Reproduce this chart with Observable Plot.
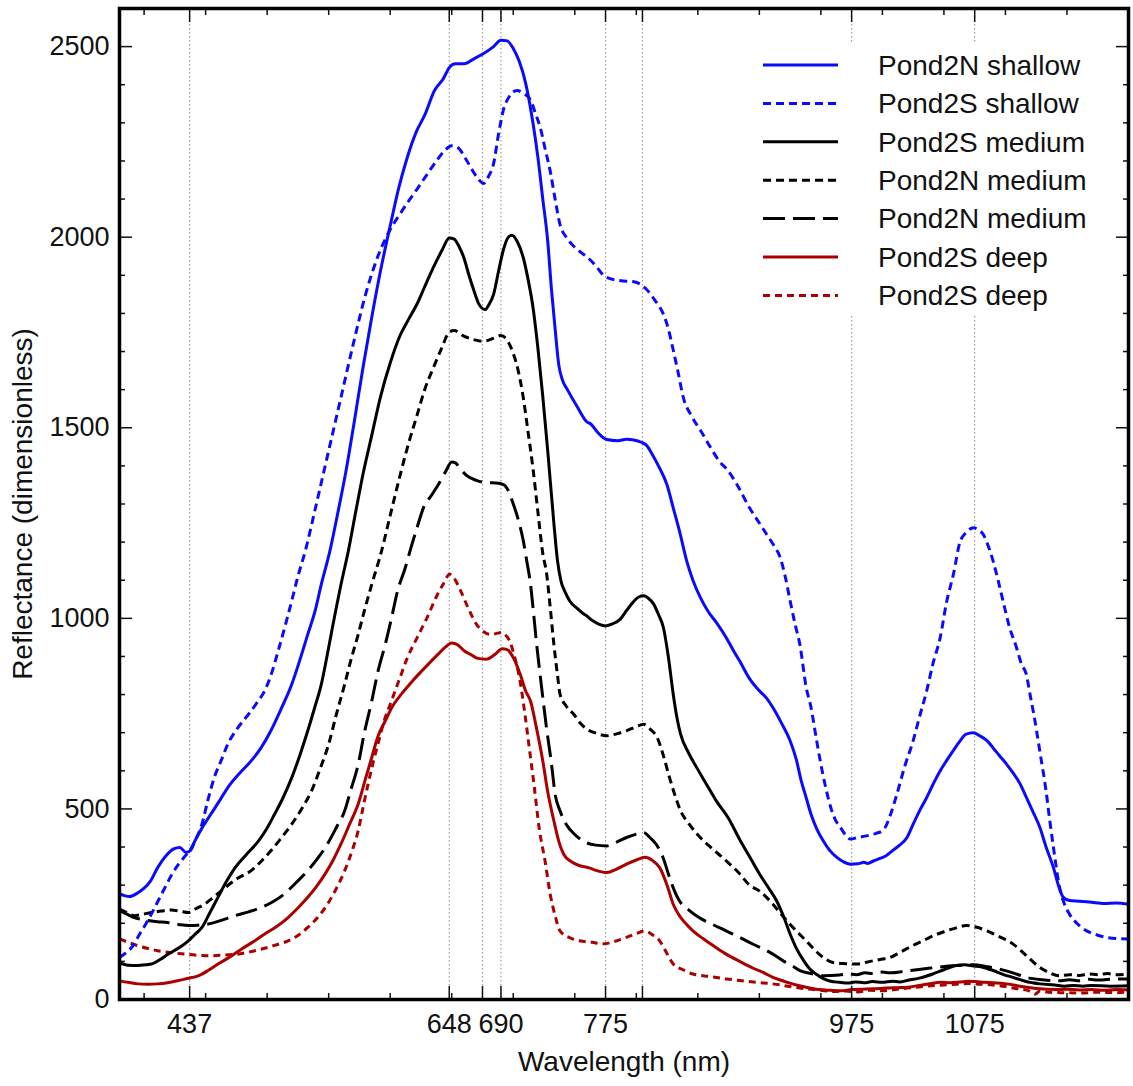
<!DOCTYPE html>
<html>
<head>
<meta charset="utf-8">
<script src="https://cdn.jsdelivr.net/npm/d3@7"></script>
<script src="https://cdn.jsdelivr.net/npm/@observablehq/plot@0.6"></script>
<style>
  body { margin: 0; background: #fff; }
  #wrap { position: relative; width: 1133px; height: 1086px; font-family: "Liberation Sans", Arial, sans-serif; }
  #legend { position: absolute; left: 745px; top: 42px; width: 365px; height: 274px; background: #fff; }
</style>
</head>
<body>
<div id="wrap"></div>
<script>
// ---------- data: [wavelength nm, reflectance] ----------
const pond2NShallow = [[380,277],[388,270],[395,280],[400,292],[405,310],[411,346],[418,378],[424,395],[429,399],[434,386],[438,392],[441,414],[448,455],[455,490],[462,525],[468,556],[478,595],[487,626],[495,660],[503,705],[511,760],[520,827],[527,895],[533,958],[539,1020],[544,1089],[551,1177],[557,1270],[564,1385],[571,1520],[578,1660],[585,1790],[592,1910],[600,2030],[607,2130],[613,2200],[621,2275],[628,2320],[636,2385],[643,2415],[648,2445],[653,2455],[660,2455],[668,2468],[676,2482],[684,2500],[690,2517],[695,2515],[700,2495],[705,2460],[710,2405],[716,2300],[720,2210],[724,2100],[728,1990],[731,1865],[734,1760],[737,1665],[740,1625],[744,1600],[752,1555],[760,1515],[763,1510],[768,1490],[776,1469],[785,1466],[792,1470],[798,1468],[804,1462],[808,1455],[813,1430],[818,1400],[825,1350],[830,1290],[835,1230],[841,1150],[846,1100],[852,1055],[858,1020],[866,985],[873,950],[879,915],[884,888],[892,842],[900,810],[906,790],[911,766],[918,725],[925,679],[930,630],[934,574],[938,530],[942,486],[947,445],[952,416],[957,392],[963,373],[968,362],[974,355],[980,356],[985,360],[988,357],[993,364],[998,370],[1003,377],[1008,390],[1014,405],[1020,425],[1025,460],[1031,500],[1036,530],[1042,570],[1047,600],[1052,626],[1058,655],[1063,678],[1068,696],[1074,700],[1079,692],[1085,679],[1090,660],[1095,640],[1101,617],[1106,595],[1112,565],[1117,530],[1122,495],[1128,451],[1133,400],[1139,346],[1143,300],[1147,268],[1152,260],[1160,258],[1170,255],[1180,252],[1190,253],[1200,250]];

const pond2SShallow = [[380,110],[385,122],[390,137],[397,175],[403,207],[410,250],[417,294],[422,325],[428,355],[433,375],[437,390],[442,420],[447,460],[452,525],[457,582],[463,630],[468,670],[476,712],[485,749],[492,780],[498,810],[504,860],[509,915],[515,985],[520,1046],[525,1110],[531,1177],[540,1300],[550,1440],[560,1580],[570,1720],[580,1850],[590,1950],[600,2020],[608,2061],[615,2095],[622,2127],[630,2165],[638,2202],[645,2230],[650,2240],[655,2235],[662,2202],[670,2160],[676,2141],[680,2160],[684,2193],[688,2270],[692,2334],[697,2370],[703,2385],[708,2378],[714,2360],[718,2325],[722,2287],[726,2230],[730,2174],[734,2100],[738,2033],[743,2000],[749,1977],[755,1960],[760,1948],[767,1925],[773,1901],[780,1890],[790,1885],[798,1883],[804,1875],[808,1864],[815,1835],[822,1798],[826,1760],[830,1704],[834,1645],[838,1582],[845,1530],[852,1494],[860,1450],[868,1410],[874,1390],[882,1350],[892,1290],[900,1250],[906,1220],[912,1190],[917,1159],[921,1110],[925,1046],[929,985],[933,930],[938,820],[942,766],[946,690],[950,617],[954,555],[958,504],[962,470],[966,451],[970,432],[974,421],[980,425],[988,430],[995,436],[1000,443],[1002,450],[1006,480],[1011,530],[1018,610],[1025,679],[1030,740],[1036,810],[1041,880],[1047,950],[1052,1040],[1058,1120],[1063,1200],[1068,1225],[1074,1238],[1078,1232],[1082,1220],[1086,1190],[1090,1150],[1094,1100],[1098,1046],[1103,980],[1109,923],[1113,880],[1117,853],[1120,800],[1123,749],[1128,650],[1133,547],[1136,470],[1139,399],[1144,294],[1148,250],[1152,224],[1158,200],[1166,180],[1174,170],[1182,163],[1190,160],[1200,159]];

const pond2SMedium = [[380,97],[387,90],[395,89],[401,91],[406,93],[413,105],[420,120],[428,135],[436,154],[441,170],[447,189],[453,225],[460,268],[467,310],[474,346],[483,380],[493,416],[500,450],[506,486],[513,530],[520,582],[527,645],[533,705],[539,770],[544,827],[548,890],[552,958],[556,1025],[560,1089],[566,1177],[572,1280],[578,1380],[585,1480],[592,1580],[600,1670],[608,1742],[615,1785],[622,1826],[628,1870],[635,1920],[642,1965],[648,1998],[652,1995],[656,1975],[660,1945],[664,1900],[668,1860],[672,1825],[677,1810],[680,1822],[684,1850],[688,1910],[692,1967],[696,2000],[699,2005],[703,1990],[708,1948],[712,1890],[716,1817],[720,1710],[724,1582],[728,1440],[733,1250],[736,1150],[739,1095],[742,1070],[746,1045],[752,1026],[757,1012],[760,1006],[762,1000],[765,993],[770,984],[775,980],[781,986],[787,998],[792,1020],[797,1041],[802,1056],[806,1059],[810,1052],[814,1038],[818,1010],[822,976],[826,900],[830,801],[833,740],[836,696],[842,650],[849,609],[857,565],[865,521],[875,475],[884,420],[892,375],[900,330],[907,295],[914,259],[920,215],[925,172],[930,135],[936,102],[941,80],[946,67],[952,55],[958,48],[965,45],[972,43],[978,46],[985,44],[992,47],[1000,45],[1008,48],[1014,46],[1020,50],[1030,56],[1041,67],[1050,78],[1060,89],[1067,91],[1074,88],[1080,86],[1086,80],[1090,76],[1098,66],[1106,58],[1112,52],[1116,48],[1122,44],[1128,41],[1140,38],[1148,35],[1155,37],[1163,35],[1170,37],[1185,35],[1200,36]];

const pond2NMediumA = [[380,237],[386,228],[392,220],[399,224],[406,228],[414,232],[422,235],[429,232],[436,228],[442,238],[449,250],[457,270],[466,294],[476,318],[487,338],[495,362],[503,390],[511,422],[520,460],[528,500],[536,547],[543,605],[550,670],[556,745],[563,827],[568,890],[574,958],[579,1020],[585,1089],[593,1177],[600,1270],[608,1375],[615,1460],[622,1535],[628,1600],[635,1657],[642,1710],[648,1751],[652,1755],[659,1742],[667,1732],[676,1727],[684,1735],[690,1742],[695,1730],[700,1695],[704,1650],[708,1582],[712,1490],[716,1394],[720,1280],[724,1170],[727,1120],[730,1030],[733,932],[736,850],[738,801],[743,770],[749,749],[754,727],[760,709],[768,698],[776,692],[784,697],[792,705],[800,716],[806,722],[811,710],[817,687],[822,640],[827,582],[831,540],[836,495],[843,460],[852,425],[862,395],[873,364],[884,330],[892,300],[900,285],[911,250],[920,215],[930,180],[938,154],[945,130],[952,110],[960,97],[970,94],[979,93],[990,100],[1000,106],[1006,110],[1015,125],[1025,142],[1033,154],[1042,168],[1052,180],[1060,188],[1068,194],[1076,190],[1085,180],[1095,165],[1106,146],[1116,118],[1128,84],[1136,70],[1144,62],[1152,65],[1160,63],[1168,67],[1175,65],[1183,68],[1190,65],[1200,67]];

const pond2NMediumB = [[380,233],[386,224],[392,215],[398,210],[403,207],[411,204],[419,202],[428,197],[436,194],[444,195],[452,198],[462,207],[474,220],[485,230],[495,241],[505,257],[514,277],[523,305],[533,338],[541,370],[549,408],[556,450],[563,495],[568,550],[574,617],[579,700],[585,783],[590,860],[596,932],[601,1000],[606,1072],[612,1130],[617,1187],[622,1240],[627,1290],[634,1325],[640,1356],[645,1385],[650,1410],[653,1408],[657,1392],[662,1375],[670,1362],[678,1356],[686,1355],[692,1351],[696,1335],[700,1300],[704,1260],[708,1206],[711,1150],[714,1090],[716,1030],[719,932],[723,820],[727,713],[731,620],[734,539],[738,495],[743,460],[750,433],[759,412],[767,405],[776,403],[784,413],[792,425],[800,434],[806,438],[811,425],[816,408],[822,370],[827,320],[831,285],[835,259],[843,234],[851,215],[862,197],[873,180],[884,163],[895,145],[905,130],[911,119],[920,100],[927,88],[933,76],[942,68],[952,62],[965,64],[972,67],[979,65],[986,70],[992,68],[1000,72],[1006,70],[1020,75],[1033,80],[1046,85],[1060,89],[1074,91],[1085,86],[1095,80],[1106,70],[1117,58],[1130,52],[1144,49],[1152,52],[1160,49],[1168,53],[1175,51],[1190,54],[1200,54]];

const pond2SDeepA = [[380,49],[387,45],[395,41],[403,40],[411,41],[419,44],[427,49],[435,55],[444,62],[452,76],[460,93],[470,112],[479,132],[489,152],[498,172],[508,192],[517,215],[525,240],[533,268],[540,296],[547,329],[554,368],[560,408],[567,460],[574,513],[580,580],[585,635],[590,690],[596,731],[602,770],[609,801],[616,828],[623,853],[631,880],[639,906],[645,925],[650,935],[655,930],[660,915],[665,906],[671,895],[678,893],[685,905],[691,920],[695,918],[700,897],[706,850],[710,810],[714,783],[719,710],[724,626],[728,545],[733,469],[737,415],[741,381],[747,362],[754,351],[761,346],[768,338],[776,333],[784,342],[792,355],[800,366],[807,373],[813,365],[819,346],[825,300],[830,250],[835,220],[840,200],[846,180],[855,158],[864,138],[873,119],[884,100],[895,82],[905,68],[911,58],[920,48],[930,38],[938,32],[948,26],[958,24],[966,23],[975,26],[984,27],[993,28],[1003,30],[1012,31],[1020,32],[1030,37],[1040,42],[1047,45],[1055,44],[1063,46],[1070,48],[1076,47],[1083,45],[1090,44],[1101,41],[1112,35],[1122,30],[1128,28],[1140,26],[1150,27],[1160,25],[1170,26],[1180,24],[1190,26],[1200,25]];

const pond2SDeepB = [[380,159],[387,150],[395,141],[403,134],[411,128],[422,123],[433,119],[444,116],[455,115],[466,117],[476,119],[486,125],[495,132],[506,142],[517,154],[525,168],[533,189],[541,215],[549,250],[556,290],[563,338],[569,390],[574,443],[578,505],[582,565],[586,620],[590,670],[595,730],[601,783],[608,845],[614,897],[622,950],[630,1002],[638,1060],[644,1095],[648,1116],[652,1105],[656,1081],[663,1030],[670,985],[676,965],[681,958],[686,960],[690,963],[694,955],[697,941],[701,900],[705,845],[709,760],[713,661],[717,560],[721,451],[726,360],[730,277],[734,220],[738,180],[746,162],[754,154],[764,150],[773,146],[782,152],[792,163],[800,173],[807,180],[813,170],[819,154],[825,120],[830,93],[838,78],[846,67],[860,60],[873,54],[884,50],[898,45],[911,41],[925,34],[938,28],[950,24],[960,21],[970,22],[980,20],[990,24],[1000,23],[1010,26],[1020,30],[1030,33],[1040,36],[1050,38],[1060,40],[1070,42],[1080,40],[1090,38],[1100,34],[1110,28],[1118,24],[1124,14],[1128,22],[1135,19],[1145,18],[1160,17],[1175,19],[1190,18],[1200,20]];

// ---------- ticks ----------
const xLabeledTicks = [437, 648, 690, 775, 975, 1075];
const xUnlabeledTicks = [675, 805];
const xMinorTicks = [400, 450, 500, 550, 600, 650, 700, 750, 800, 850, 900, 950, 1000, 1050, 1100, 1150];
const yMajorTicks = [0, 500, 1000, 1500, 2000, 2500];
const yMinorTicks = [100, 200, 300, 400, 600, 700, 800, 900, 1100, 1200, 1300, 1400, 1600, 1700, 1800, 1900, 2100, 2200, 2300, 2400, 2600];

const BLUE = "#0a0aff", DARKRED = "#aa0000", BLACK = "#000";
const SHORT = "8,5", LONG = "22,8";
const series = [
  {name: "Pond2N shallow", data: pond2NShallow, color: BLUE, dash: null},
  {name: "Pond2S shallow", data: pond2SShallow, color: BLUE, dash: SHORT},
  {name: "Pond2S medium", data: pond2SMedium, color: BLACK, dash: null},
  {name: "Pond2N medium", data: pond2NMediumA, color: BLACK, dash: SHORT},
  {name: "Pond2N medium", data: pond2NMediumB, color: BLACK, dash: LONG},
  {name: "Pond2S deep", data: pond2SDeepA, color: DARKRED, dash: null},
  {name: "Pond2S deep", data: pond2SDeepB, color: DARKRED, dash: "7,5"}
];

const fmt = d => String(d);
const blank = () => "";
const lineMarks = series.slice().reverse().map(s =>
  Plot.line(s.data, {x: d => d[0], y: d => d[1], stroke: s.color, strokeWidth: 3,
    strokeDasharray: s.dash ?? undefined, curve: "monotone-x", strokeLinecap: "butt"}));

const chart = Plot.plot({
  width: 1133,
  height: 1086,
  marginLeft: 119,
  marginRight: 5,
  marginTop: 8,
  marginBottom: 87,
  style: {fontFamily: "'Liberation Sans', Arial, sans-serif", fontSize: "27px", color: "#111", background: "#fff"},
  x: {domain: [380, 1200]},
  y: {domain: [0, 2600]},
  marks: [
    Plot.ruleX([...xLabeledTicks, ...xUnlabeledTicks], {stroke: "#9a9a9a", strokeWidth: 1.2, strokeDasharray: "1.5,2.5"}),
    ...lineMarks,
    Plot.axisX({anchor: "bottom", ticks: xLabeledTicks, tickFormat: fmt, tickSize: -13, tickPadding: 27, fontSize: 27, strokeWidth: 1.5, label: null}),
    Plot.axisX({anchor: "bottom", ticks: xUnlabeledTicks, tickFormat: blank, tickSize: -13, strokeWidth: 1.5, label: null}),
    Plot.axisX({anchor: "bottom", ticks: xMinorTicks, tickFormat: blank, tickSize: -6, strokeWidth: 1.5, label: null}),
    Plot.axisX({anchor: "top", ticks: [...xLabeledTicks, ...xUnlabeledTicks], tickFormat: blank, tickSize: -13, strokeWidth: 1.5, label: null}),
    Plot.axisX({anchor: "top", ticks: xMinorTicks, tickFormat: blank, tickSize: -6, strokeWidth: 1.5, label: null}),
    Plot.axisY({anchor: "left", ticks: yMajorTicks, tickFormat: fmt, tickSize: -13, tickPadding: 23, fontSize: 27, strokeWidth: 1.5, label: null}),
    Plot.axisY({anchor: "left", ticks: yMinorTicks, tickFormat: blank, tickSize: -6, strokeWidth: 1.5, label: null}),
    Plot.axisY({anchor: "right", ticks: yMajorTicks, tickFormat: blank, tickSize: -13, strokeWidth: 1.5, label: null}),
    Plot.axisY({anchor: "right", ticks: yMinorTicks, tickFormat: blank, tickSize: -6, strokeWidth: 1.5, label: null}),
    Plot.text(["Wavelength (nm)"], {text: d => d, frameAnchor: "bottom", dy: 71, fontSize: 28}),
    Plot.text(["Reflectance (dimensionless)"], {text: d => d, frameAnchor: "left", textAnchor: "middle", rotate: -90, dx: -96, fontSize: 28}),
    Plot.frame({stroke: "#000", strokeWidth: 3.5})
  ]
});
const wrap = document.getElementById("wrap");
wrap.appendChild(chart);

// ---------- legend (inside the plot, top-right) ----------
const legend = document.createElement("div");
legend.id = "legend";
const NS = "http://www.w3.org/2000/svg";
const lsvg = document.createElementNS(NS, "svg");
lsvg.setAttribute("width", 365);
lsvg.setAttribute("height", 274);
series.forEach((s, i) => {
  const cy = 23 + i * 38.4;
  const ln = document.createElementNS(NS, "line");
  ln.setAttribute("x1", 18); ln.setAttribute("x2", 93);
  ln.setAttribute("y1", cy); ln.setAttribute("y2", cy);
  ln.setAttribute("stroke", s.color); ln.setAttribute("stroke-width", 3);
  if (s.dash) ln.setAttribute("stroke-dasharray", s.dash);
  lsvg.appendChild(ln);
  const tx = document.createElementNS(NS, "text");
  tx.setAttribute("x", 133); tx.setAttribute("y", cy);
  tx.setAttribute("dy", "0.35em");
  tx.setAttribute("font-size", 28);
  tx.setAttribute("font-family", "'Liberation Sans', Arial, sans-serif");
  tx.setAttribute("fill", "#111");
  tx.textContent = s.name;
  lsvg.appendChild(tx);
});
legend.appendChild(lsvg);
wrap.appendChild(legend);
</script>
</body>
</html>
